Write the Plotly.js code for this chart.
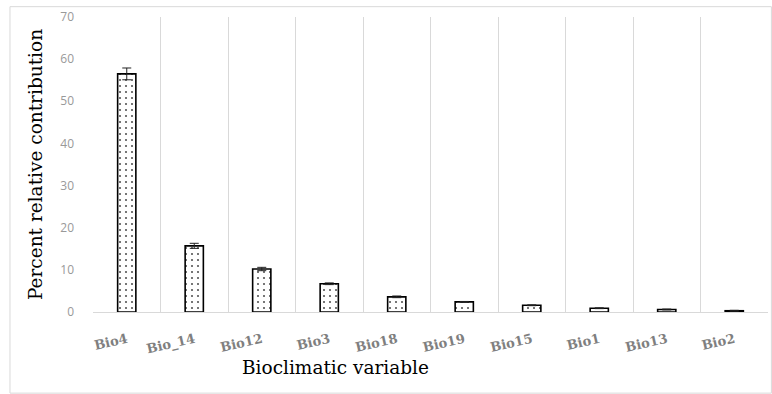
<!DOCTYPE html>
<html><head><meta charset="utf-8">
<script src="https://cdn.plot.ly/plotly-3.0.1.min.js"></script>
<style>body{margin:0;background:#fff}#c{width:772px;height:394px}</style>
</head><body><div id="c"></div>
<script>
const categories = ["Bio4","Bio_14","Bio12","Bio3","Bio18","Bio19","Bio15","Bio1","Bio13","Bio2"];
const contribution = [56.5, 15.7, 10.2, 6.7, 3.6, 2.4, 1.6, 0.9, 0.6, 0.3];
const errors = [1.4, 0.6, 0.4, 0.2, 0.2, 0.1, 0.1, 0.1, 0.1, 0.1];
const yTicks = [0,10,20,30,40,50,60,70];
const xTitle = 'Bioclimatic variable';
const yTitle = 'Percent relative contribution';

const trace = {
  type: 'bar',
  x: categories,
  y: contribution,
  error_y: {type:'data', array: errors, visible:true, color:'#222', thickness:1, width:4.5},
  marker: {
    color:'#fff',
    line:{color:'#000', width:1.6},
    pattern:{shape:'.', fgcolor:'#555', bgcolor:'#fff', size:6, solidity:0.1}
  },
  hoverinfo:'none'
};

const layout = {
  width:772, height:394,
  margin:{l:92.5, r:4, t:17, b:81.5},
  paper_bgcolor:'#fff', plot_bgcolor:'#fff',
  showlegend:false,
  bargap:0.73,
  xaxis:{
    type:'category',
    tickson:'boundaries',
    showgrid:true, gridcolor:'#d9d9d9', gridwidth:1,
    showline:true, linecolor:'#d9d9d9', linewidth:1,
    ticks:'', tickangle:-13,
    ticklabelstandoff:14,
    tickfont:{family:'"DejaVu Serif", serif', size:13, color:'#7f7f7f', weight:'bold'}
  },
  yaxis:{
    range:[0,70], tickvals:yTicks, ticktext:yTicks.map(String),
    showgrid:false, zeroline:false, showline:false,
    ticks:'', ticklabelstandoff:18,
    tickfont:{family:'"Open Sans", sans-serif', size:12, color:'#999'},
    title:{text:yTitle, standoff:12,
      font:{family:'"DejaVu Serif", serif', size:18.5, color:'#000'}}
  },
  annotations:[{text:xTitle, xref:'paper', yref:'paper', x:0.359, y:-0.188,
    xanchor:'center', yanchor:'middle', showarrow:false,
    font:{family:'"DejaVu Serif", serif', size:18.5, color:'#000'}}],
  shapes:[{type:'rect', xref:'paper', yref:'paper', x0:-0.123, x1:1.005, y0:-0.275, y1:1.035,
    line:{color:'#d9d9d9', width:1}, fillcolor:'rgba(0,0,0,0)', layer:'below'}]
};

Plotly.newPlot('c',[trace],layout,{displayModeBar:false,staticPlot:true});
</script></body></html>
